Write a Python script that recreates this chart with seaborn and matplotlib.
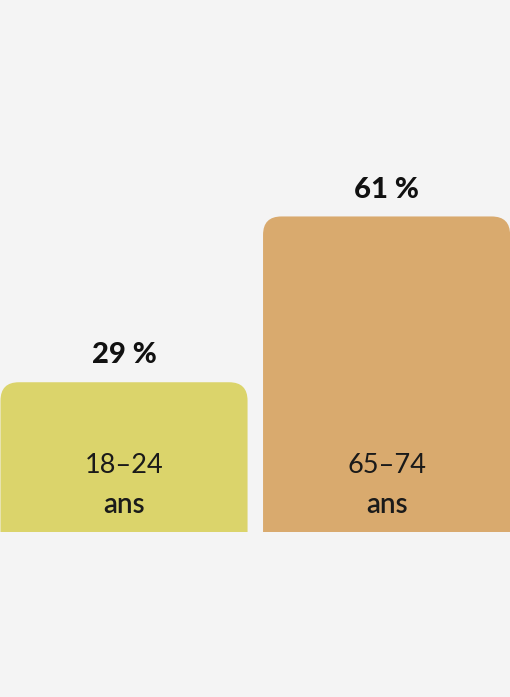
import matplotlib
matplotlib.use("Agg")
import matplotlib.pyplot as plt
import seaborn as sns
from matplotlib.patches import FancyBboxPatch

# data
ages = ["18–24", "65–74"]
unit = ["ans", "ans"]
values = [29, 61]
value_labels = ["29 %", "61 %"]
colors = ["#dbd46b", "#d9aa6e"]
bg = "#f4f4f4"

sns.set_theme(style="white")
plt.rcParams["font.family"] = ["Lato", "DejaVu Sans"]

fig = plt.figure(figsize=(5.101, 6.971), dpi=100, facecolor=bg)
ax = fig.add_axes([0, 0.236, 1, 0.764])
ax.set_facecolor(bg)

sns.barplot(x=ages, y=values, hue=ages, palette=colors, width=0.941, legend=False, ax=ax)

ax.set_xlim(-0.4724, 1.4705)
ax.set_ylim(0, 102.8)
ax.axis("off")

# swap the plain bars for ones with rounded top corners
bbox = ax.get_window_extent()
xl, yl = ax.get_xlim(), ax.get_ylim()
aspect = ((yl[1] - yl[0]) / bbox.height) / ((xl[1] - xl[0]) / bbox.width)
bars = list(ax.patches)
for bar, col in zip(bars, colors):
    x0, w, h = bar.get_x(), bar.get_width(), bar.get_height()
    bar.remove()
    rb = FancyBboxPatch((x0, -20), w, h + 20,
                        boxstyle="round,pad=0,rounding_size=0.07",
                        mutation_aspect=aspect, fc=col, ec="none")
    ax.add_patch(rb)

for i, (a, u, v, lab) in enumerate(zip(ages, unit, values, value_labels)):
    ax.annotate(lab, (i, v), xytext=(0, 13.7), textcoords="offset points",
                ha="center", va="baseline", fontsize=21, fontweight="black", color="#111111")
    ax.text(i, 11.5, a, ha="center", va="baseline", fontsize=19.5, color="#1a1a1a")
    ax.text(i, 3.86, u, ha="center", va="baseline", fontsize=20, fontweight="semibold", color="#1a1a1a")

fig.savefig("out.png", dpi=100, facecolor=bg)
